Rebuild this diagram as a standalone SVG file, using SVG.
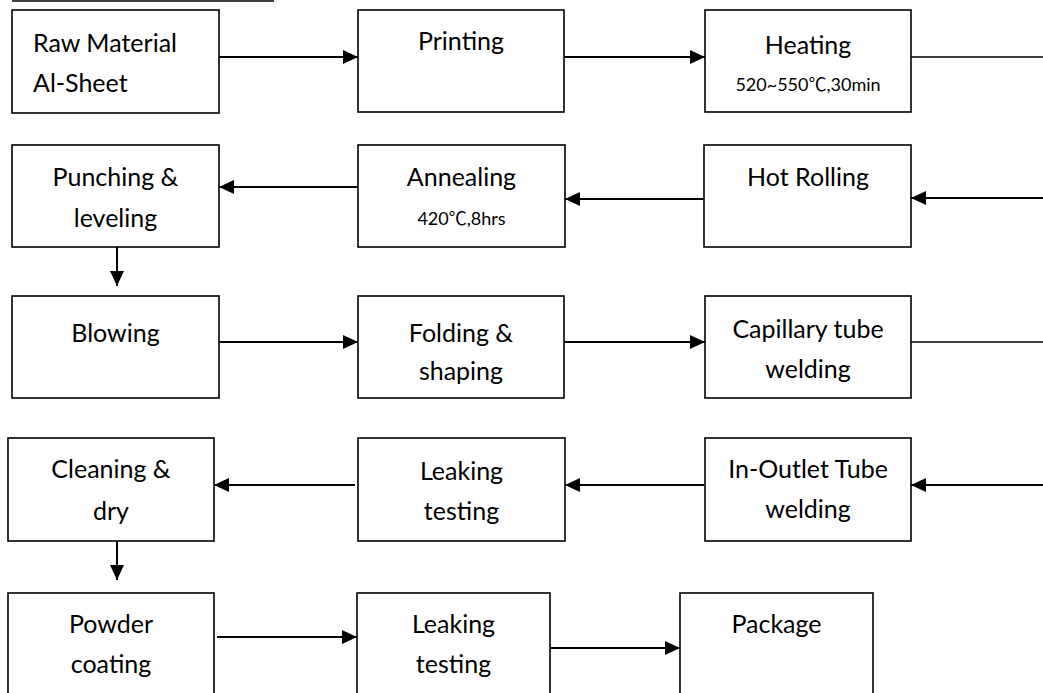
<svg xmlns="http://www.w3.org/2000/svg" width="1043" height="693" viewBox="0 0 1043 693">
<defs>
<style>
.box{fill:#fff;stroke:#000;stroke-width:1.6}
.t{font-family:Lato,"Liberation Sans","Noto Sans CJK SC",sans-serif;font-size:25px;fill:#000;text-anchor:middle}
.s{font-family:Lato,"Liberation Sans","Noto Sans CJK SC",sans-serif;font-size:18px;fill:#000;text-anchor:middle}
.a{fill:none;stroke:#000;stroke-width:2;marker-end:url(#ah)}
.p{fill:none;stroke:#000;stroke-width:1.3}
</style>
<marker id="ah" markerUnits="userSpaceOnUse" markerWidth="16" markerHeight="14" refX="15" refY="7" orient="auto">
<path d="M0,0 L15,7 L0,14 z" fill="#000"/>
</marker>
</defs>
<rect width="1043" height="693" fill="#fff"/>
<line x1="12" y1="1" x2="274" y2="1" stroke="#000" stroke-width="1.6"/>

<g id="connectors">
<path class="a" d="M219,57 H358"/>
<path class="a" d="M564,57 H705"/>
<path class="p" d="M911,57 H1043"/>
<path class="a" d="M1043,198 H911"/>
<path class="a" d="M704,199 H565"/>
<path class="a" d="M358,187 H219"/>
<path class="a" d="M117,247 V286"/>
<path class="a" d="M219,342 H358"/>
<path class="a" d="M564,342 H705"/>
<path class="p" d="M911,342 H1043"/>
<path class="a" d="M1043,485 H911"/>
<path class="a" d="M704,485 H565"/>
<path class="a" d="M355,485 H214"/>
<path class="a" d="M117,541 V580"/>
<path class="a" d="M217,637 H357"/>
<path class="a" d="M550,648 H680"/>
</g>

<g id="raw"><rect class="box" x="12" y="10" width="207" height="103"/>
<text class="t" x="33" y="52" style="text-anchor:start">Raw Material</text>
<text class="t" x="33" y="92" style="text-anchor:start">Al-Sheet</text></g>

<g id="printing"><rect class="box" x="358" y="10" width="206" height="102"/>
<text class="t" x="461" y="50">Printing</text></g>

<g id="heating"><rect class="box" x="705" y="10" width="206" height="102"/>
<text class="t" x="808" y="54">Heating</text>
<text class="s" x="808" y="91">520~550℃,30min</text></g>

<g id="punching"><rect class="box" x="12" y="145" width="207" height="102"/>
<text class="t" x="115.5" y="186">Punching &amp;</text>
<text class="t" x="115.5" y="227">leveling</text></g>

<g id="annealing"><rect class="box" x="358" y="145" width="207" height="102"/>
<text class="t" x="461.5" y="186">Annealing</text>
<text class="s" x="461.5" y="225">420℃,8hrs</text></g>

<g id="hotrolling"><rect class="box" x="704" y="145" width="207" height="102"/>
<text class="t" x="808" y="186">Hot Rolling</text></g>

<g id="blowing"><rect class="box" x="12" y="296" width="207" height="102"/>
<text class="t" x="115.5" y="342">Blowing</text></g>

<g id="folding"><rect class="box" x="358" y="296" width="206" height="102"/>
<text class="t" x="461" y="342">Folding &amp;</text>
<text class="t" x="461" y="380">shaping</text></g>

<g id="capillary"><rect class="box" x="705" y="296" width="206" height="102"/>
<text class="t" x="808" y="338">Capillary tube</text>
<text class="t" x="808" y="378">welding</text></g>

<g id="cleaning"><rect class="box" x="8" y="438" width="206" height="103"/>
<text class="t" x="111" y="478">Cleaning &amp;</text>
<text class="t" x="111" y="520">dry</text></g>

<g id="leaking1"><rect class="box" x="358" y="438" width="207" height="103"/>
<text class="t" x="461.5" y="480">Leaking</text>
<text class="t" x="461.5" y="520">testing</text></g>

<g id="inoutlet"><rect class="box" x="705" y="438" width="206" height="103"/>
<text class="t" x="808" y="478">In-Outlet Tube</text>
<text class="t" x="808" y="518">welding</text></g>

<g id="powder"><rect class="box" x="8" y="593" width="206" height="103"/>
<text class="t" x="111" y="633">Powder</text>
<text class="t" x="111" y="673">coating</text></g>

<g id="leaking2"><rect class="box" x="357" y="593" width="193" height="103"/>
<text class="t" x="453.5" y="633">Leaking</text>
<text class="t" x="453.5" y="673">testing</text></g>

<g id="package"><rect class="box" x="680" y="593" width="193" height="103"/>
<text class="t" x="776.5" y="633">Package</text></g>
</svg>
